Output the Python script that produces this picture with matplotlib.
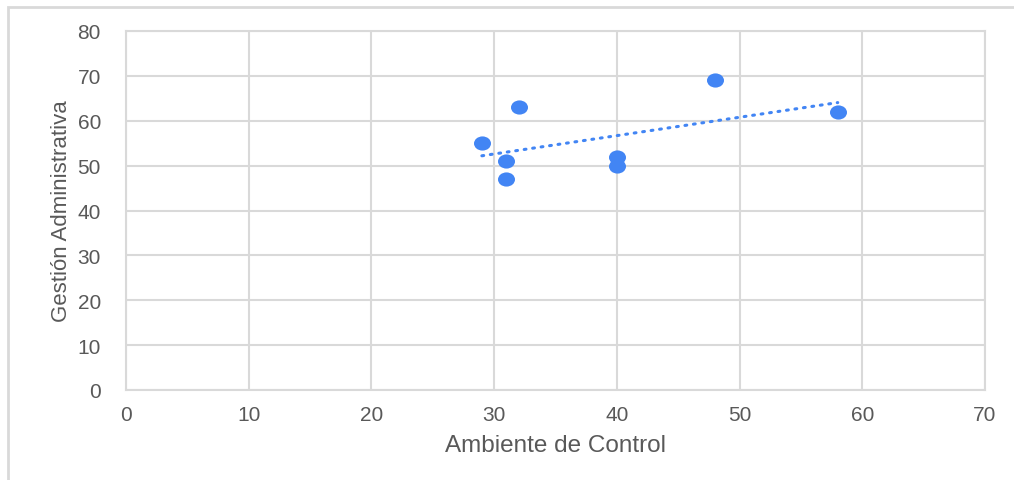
import numpy as np
import matplotlib
matplotlib.use("Agg")
import matplotlib.pyplot as plt
from matplotlib.path import Path
from matplotlib.transforms import Affine2D
from matplotlib.patches import Rectangle

# Ambiente de Control vs Gestión Administrativa
ambiente = [29, 31, 31, 32, 40, 40, 48, 58]
gestion = [55, 51, 47, 63, 52, 50, 69, 62]
x_ticks = [0, 10, 20, 30, 40, 50, 60, 70]
y_ticks = [0, 10, 20, 30, 40, 50, 60, 70, 80]

BLUE = "#4285f4"
GRID = "#d9d9d9"
TEXT = "#595959"

plt.rcParams["font.family"] = ["Liberation Sans", "DejaVu Sans"]

fig = plt.figure(figsize=(10.14, 4.81), dpi=100)
ax = fig.add_axes([126 / 1014, 1 - 391 / 481, (985 - 126) / 1014, (391 - 32) / 481])

# slightly wide oval marker
oval = Path.unit_circle().transformed(Affine2D().scale(1.2, 1.0))
ax.scatter(ambiente, gestion, marker=oval, s=150, color=BLUE, zorder=3, linewidths=0)

# linear trendline over the data range
m, b = np.polyfit(ambiente, gestion, 1)
xs = np.array([min(ambiente), max(ambiente)])
ax.plot(xs, m * xs + b, linestyle=(0, (0.6, 2.2)), color=BLUE, lw=2.2,
        dash_capstyle="round", zorder=2)

ax.set_xlim(0, 70)
ax.set_ylim(0, 80)
ax.set_xticks(x_ticks)
ax.set_yticks(y_ticks)
ax.grid(True, color=GRID, lw=1.5)
ax.set_axisbelow(True)
for s in ax.spines.values():
    s.set_color(GRID)
    s.set_linewidth(1.5)
ax.tick_params(length=0, labelsize=15, colors=TEXT)
ax.tick_params(axis="y", pad=18)
ax.tick_params(axis="x", pad=11)
ax.set_xlabel("Ambiente de Control", fontsize=17.5, color=TEXT, labelpad=7)
ax.set_ylabel("Gestión Administrativa", fontsize=16, color=TEXT, labelpad=4)

# outer frame (top and left edges)
fig.patches.append(Rectangle((8 / 1014, -0.1), 1.2, 1 - 8 / 481 + 0.1,
                             transform=fig.transFigure, fill=False,
                             edgecolor=GRID, lw=2))

fig.savefig("out.png", dpi=100)
